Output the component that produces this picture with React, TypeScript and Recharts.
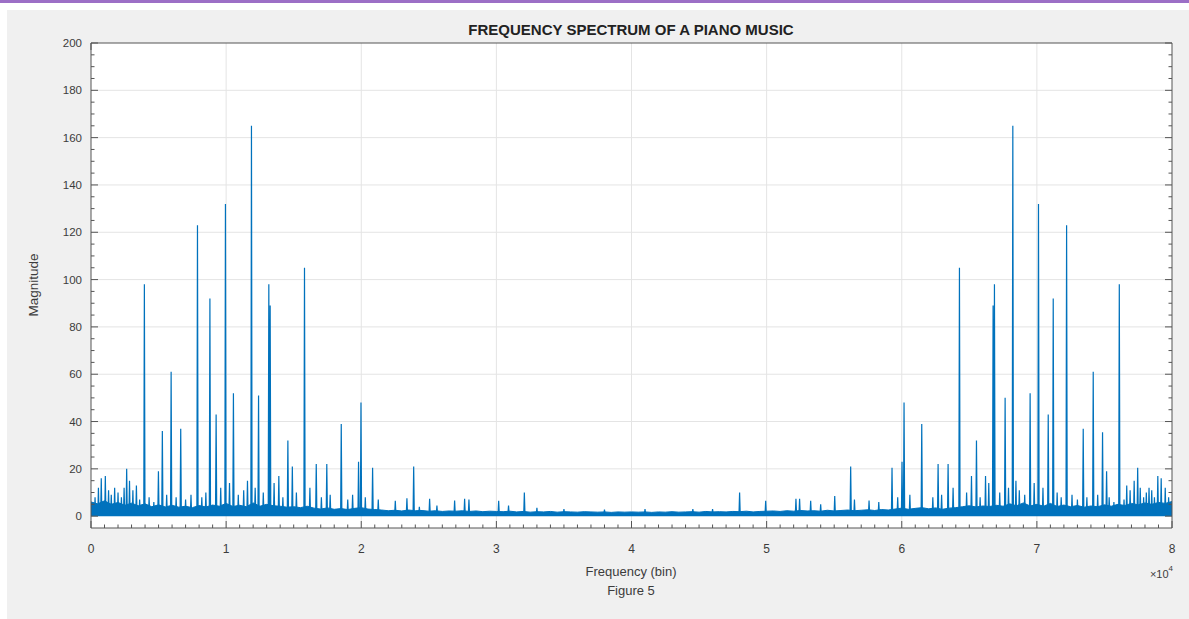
import React from 'react';
import { ComposedChart, Area, Line, XAxis, YAxis, CartesianGrid } from 'recharts';

const BLUE = '#0072BD';
const AXIS = '#555555';
const TEXT = '#3c3c3c';

// noise floor level, one value every 500 bins from 0 to 80000
const floorLevels = [
  // 0 - 16000
  6.0, 5.2, 6.5, 5.0, 5.8, 4.6, 5.5, 4.4, 5.2, 4.0, 4.8, 3.9, 4.6, 3.8, 4.2, 3.6, 4.5,
  3.9, 4.7, 4.2, 5.4, 4.1, 4.6, 4.0, 5.6, 4.2, 5.0, 4.4, 4.2, 3.8, 4.0, 3.6, 4.2,
  // 16500 - 21000
  3.4, 3.0, 3.5, 2.9, 3.2, 2.8, 3.3, 3.6, 3.0, 2.8,
  // 21500 - 30000
  2.6, 2.3, 2.5, 2.2, 2.6, 2.3, 2.4, 2.1, 2.3, 2.0, 2.2, 2.1, 2.3, 2.0, 2.2, 1.9, 2.1, 2.0,
  // 30500 - 50000
  1.9, 2.1, 1.8, 2.0, 1.7, 1.9, 1.8, 2.0, 1.7, 1.9, 1.8, 1.7, 1.9, 1.8, 1.7, 1.8, 1.6, 1.8, 1.7, 1.8,
  1.7, 1.8, 1.6, 1.8, 1.7, 1.9, 1.7, 1.8, 1.9, 1.7, 2.0, 1.8, 1.9, 1.8, 2.0, 1.9, 2.1, 1.8, 2.0, 2.1,
  // 50500 - 59000
  2.2, 2.0, 2.3, 2.1, 2.4, 2.2, 2.3, 2.1, 2.5, 2.2, 2.4, 2.6, 2.3, 2.5, 2.7, 2.4, 2.8, 2.6,
  // 59500 - 64000
  3.0, 3.4, 2.9, 3.3, 3.6, 3.1, 3.5, 2.9, 3.4, 3.6,
  // 64500 - 80000
  4.0, 4.4, 3.9, 4.3, 4.1, 4.6, 4.2, 5.2, 4.4, 5.6, 4.3, 5.0, 4.2, 5.4, 4.1, 4.7,
  4.0, 4.5, 3.8, 4.3, 4.0, 4.8, 4.2, 5.0, 4.5, 5.4, 4.8, 5.6, 5.0, 5.8, 5.4, 6.2,
];
const FLOOR_STEP = 500;

// spectral peaks (bin, magnitude)
const spikeBins = [
  300, 550, 760, 1060, 1300, 1500, 1750, 2000, 2250, 2450, 2640, 2850, 3100, 3360, 3600, 3950,
  4300, 4650, 4990, 5280, 5600, 5930, 6300, 6640, 7000, 7400, 7880, 8200, 8500, 8800, 9260, 9600,
  9950, 10250, 10540, 10900, 11300, 11580, 11875, 12150, 12400, 12750, 13160, 13260, 13550, 13900,
  14200, 14570, 14900, 15200, 15800, 16200, 16670, 17050, 17450, 17700, 18520, 19000, 19360, 19800,
  19980, 20300, 20840, 21260, 22520, 23380, 23880, 24300, 25060, 25600, 26910, 27650, 27970, 30170,
  30900, 32070, 33000, 35000, 38000, 41000, 44540, 46000, 48000, 49930, 52170, 52440, 53260, 54000,
  55040, 56220, 56500, 57580, 58300, 59280, 59700, 60020, 60170, 60600, 61480, 62300, 62690, 62950,
  63430, 63800, 64270, 64800, 65160, 65530, 65800, 66200, 66440, 66760, 66860, 67250, 67650, 67900,
  68220, 68450, 68700, 69100, 69500, 69800, 70120, 70450, 70840, 71210, 71500, 71800, 72200, 72600,
  73000, 73430, 73700, 74170, 74500, 74860, 75160, 75350, 75700, 76100, 76450, 76650, 76900, 77200,
  77460, 77650, 77900, 78100, 78300, 78500, 78700, 78950, 79200, 79500, 79750,
];
const spikeMags = [
  8, 12, 16, 17, 11, 9, 12, 10, 8, 12, 20, 15, 11, 13, 7, 98,
  8, 6, 19, 36, 9, 61, 8, 37, 7, 9, 123, 8, 10, 92, 43, 12,
  132, 14, 52, 9, 11, 15, 165, 12, 51, 10, 98, 89, 14, 17,
  8, 32, 21, 10, 105, 12, 22, 8, 22, 9, 39, 7, 9, 23,
  48, 8, 20.5, 7, 6.5, 7.6, 21, 4, 7.4, 4.5, 6.6, 7.4, 7, 6.5,
  4.5, 10, 3.5, 3, 2.8, 3, 3, 3, 10, 6.5, 7.4, 7.4, 6.5, 5,
  8.5, 21, 7, 6.6, 6, 20.5, 8, 23, 48, 9, 39, 8, 22, 9,
  22, 12, 105, 10, 17, 32, 8, 17, 14, 89, 98, 10, 50, 12,
  165, 15, 11, 9, 52, 14, 132, 12, 43, 92, 10, 8, 123, 9,
  7, 37, 8, 61, 9, 35.5, 19, 8, 6, 98, 7, 13, 11, 15,
  20.5, 12, 8, 10, 12, 11, 8, 17, 16, 12, 8,
];
const SPIKE_BASE = 1;
const SPIKE_HALF_WIDTH = 45;

const xMajor = [0, 10000, 20000, 30000, 40000, 50000, 60000, 70000, 80000];
const xTickLabels = ['0', '1', '2', '3', '4', '5', '6', '7', '8'];
const yMajor = [0, 20, 40, 60, 80, 100, 120, 140, 160, 180, 200];
const xMinorTicks = Array.from({ length: 81 }, (_, i) => i * 1000);
const yMinorTicks = Array.from({ length: 41 }, (_, i) => i * 5);

const rows: { bin: number; level?: number; mag?: number }[] = [];
floorLevels.forEach((v, i) => rows.push({ bin: i * FLOOR_STEP, level: v }));
spikeBins.forEach((b, i) => {
  rows.push({ bin: b - SPIKE_HALF_WIDTH, mag: SPIKE_BASE });
  rows.push({ bin: b, mag: spikeMags[i] });
  rows.push({ bin: b + SPIKE_HALF_WIDTH, mag: SPIKE_BASE });
});
rows.sort((a, b) => a.bin - b.bin);

const BottomTick = (props: any) => {
  const { x, y, payload } = props;
  const v = payload.value;
  const major = v % 10000 === 0;
  return (
    <g>
      <line x1={x} y1={y} x2={x} y2={y - (major ? 7 : 3.5)} stroke={AXIS} />
      {major && (
        <text x={x} y={y + 25} textAnchor="middle" fontSize={12} fill={TEXT}>
          {xTickLabels[v / 10000]}
        </text>
      )}
    </g>
  );
};

const TopTick = (props: any) => {
  const { x, y, payload } = props;
  const major = payload.value % 10000 === 0;
  return <line x1={x} y1={y} x2={x} y2={y + (major ? 7 : 3.5)} stroke={AXIS} />;
};

const LeftTick = (props: any) => {
  const { x, y, payload } = props;
  const v = payload.value;
  const major = v % 20 === 0;
  return (
    <g>
      <line x1={x} y1={y} x2={x + (major ? 7 : 3.5)} y2={y} stroke={AXIS} />
      {major && (
        <text x={x - 9} y={y + 4} textAnchor="end" fontSize={11.5} fill={TEXT}>
          {v}
        </text>
      )}
    </g>
  );
};

const RightTick = (props: any) => {
  const { x, y, payload } = props;
  const major = payload.value % 20 === 0;
  return <line x1={x} y1={y} x2={x - (major ? 7 : 3.5)} y2={y} stroke={AXIS} />;
};

const label: React.CSSProperties = {
  position: 'absolute',
  transform: 'translate(-50%, -50%)',
  whiteSpace: 'nowrap',
  color: TEXT,
};

export default function App() {
  return (
    <div
      style={{
        position: 'absolute',
        left: 0,
        top: 0,
        width: 1189,
        height: 619,
        background: '#ffffff',
        fontFamily: '"Liberation Sans", Arial, sans-serif',
        overflow: 'hidden',
      }}
    >
      <div style={{ position: 'absolute', left: 0, top: 0, width: 1189, height: 3, background: '#9c6fc6' }} />
      <div style={{ position: 'absolute', left: 7, top: 10, right: 0, bottom: 0, background: '#f0f0f0' }} />
      <div style={{ position: 'absolute', left: 91, top: 43, width: 1081, height: 485, background: '#ffffff' }} />

      <div style={{ position: 'absolute', left: 0, top: 0 }}>
        <ComposedChart
          width={1189}
          height={619}
          data={rows}
          margin={{ top: 38, right: 12, bottom: 51, left: 51 }}
        >
          <CartesianGrid
            stroke="#e4e4e4"
            verticalValues={xMajor.slice(1, -1)}
            horizontalValues={yMajor.slice(1, -1)}
          />
          <XAxis
            dataKey="bin"
            type="number"
            domain={[0, 80000]}
            allowDataOverflow
            ticks={xMinorTicks}
            interval={0}
            height={40}
            tickSize={0}
            tickMargin={0}
            tickLine={false}
            tick={<BottomTick />}
            axisLine={{ stroke: AXIS }}
          />
          <XAxis
            xAxisId="top"
            orientation="top"
            type="number"
            domain={[0, 80000]}
            allowDataOverflow
            ticks={xMinorTicks}
            interval={0}
            height={5}
            tickSize={0}
            tickMargin={0}
            tickLine={false}
            tick={<TopTick />}
            axisLine={{ stroke: AXIS }}
          />
          <YAxis
            type="number"
            domain={[-5, 200]}
            allowDataOverflow
            ticks={yMinorTicks}
            interval={0}
            width={40}
            tickSize={0}
            tickMargin={0}
            tickLine={false}
            tick={<LeftTick />}
            axisLine={{ stroke: AXIS }}
          />
          <YAxis
            yAxisId="right"
            orientation="right"
            type="number"
            domain={[-5, 200]}
            allowDataOverflow
            ticks={yMinorTicks}
            interval={0}
            width={5}
            tickSize={0}
            tickMargin={0}
            tickLine={false}
            tick={<RightTick />}
            axisLine={{ stroke: AXIS }}
          />
          <Area
            type="linear"
            dataKey="level"
            baseValue={0}
            connectNulls
            stroke={BLUE}
            strokeWidth={1}
            fill={BLUE}
            fillOpacity={1}
            dot={false}
            activeDot={false}
            isAnimationActive={false}
          />
          <Line
            type="linear"
            dataKey="mag"
            connectNulls
            stroke={BLUE}
            strokeWidth={1.2}
            dot={false}
            activeDot={false}
            isAnimationActive={false}
          />
        </ComposedChart>
      </div>

      <div style={{ ...label, left: 631, top: 29, fontSize: 15, fontWeight: 'bold', color: '#222' }}>
        FREQUENCY SPECTRUM OF A PIANO MUSIC
      </div>
      <div style={{ ...label, left: 33, top: 285, fontSize: 13.5, transform: 'translate(-50%, -50%) rotate(-90deg)' }}>
        Magnitude
      </div>
      <div style={{ ...label, left: 631, top: 571, fontSize: 13 }}>Frequency (bin)</div>
      <div style={{ ...label, left: 631, top: 590, fontSize: 13 }}>Figure 5</div>
      <div style={{ position: 'absolute', right: 1189 - 1173, top: 568, fontSize: 11, color: TEXT, whiteSpace: 'nowrap' }}>
        ×10<sup style={{ fontSize: 8, verticalAlign: 'top', position: 'relative', top: -4 }}>4</sup>
      </div>
    </div>
  );
}
